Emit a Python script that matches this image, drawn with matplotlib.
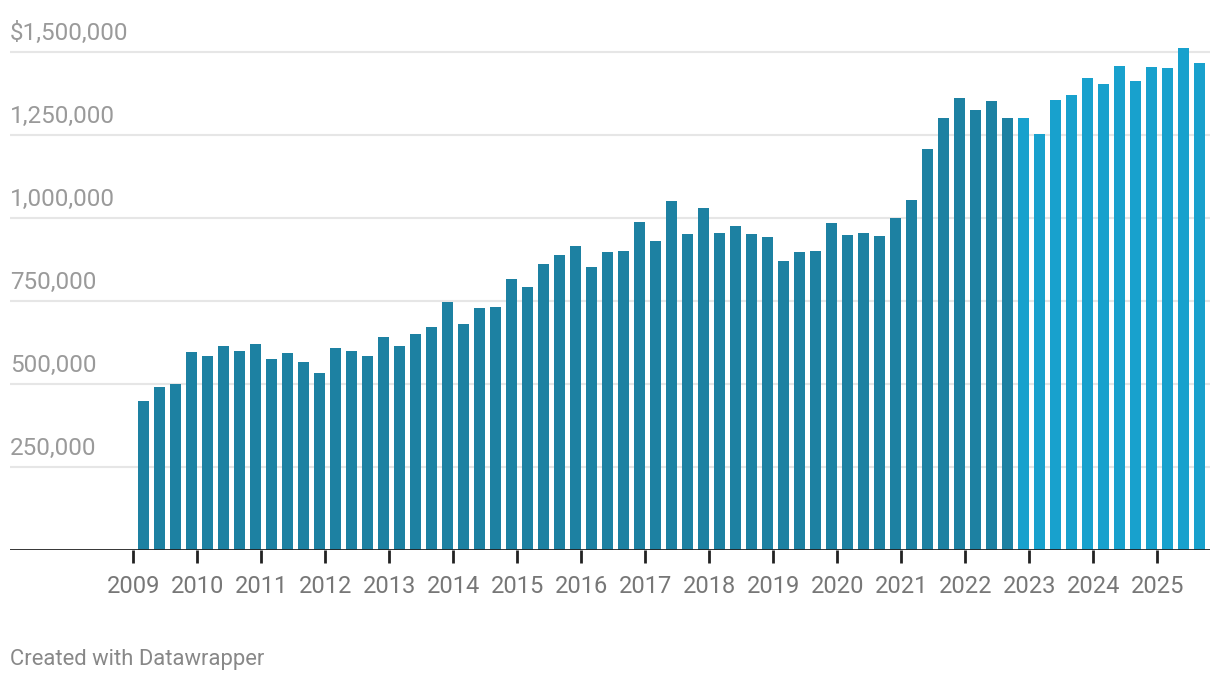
import numpy as np
import matplotlib
matplotlib.use('Agg')
import matplotlib.pyplot as plt

plt.rcParams['font.family'] = ['Roboto', 'DejaVu Sans']

# quarterly values, 2009 Q1 .. 2025 Q3
values = [448000, 490000, 499000, 595000,
          583000, 614000, 598000, 620000,
          574000, 592000, 565000, 532000,
          607000, 598000, 583000, 641000,
          614000, 650000, 671000, 746000,
          680000, 728000, 731000, 815000,
          791000, 861000, 888000, 915000,
          851000, 897000, 900000, 987000,
          930000, 1050000, 951000, 1029000,
          954000, 975000, 951000, 942000,
          870000, 897000, 900000, 984000,
          948000, 954000, 945000, 999000,
          1053000, 1207000, 1300000, 1361000,
          1324000, 1351000, 1300000, 1300000,
          1252000, 1354000, 1370000, 1421000,
          1403000, 1457000, 1412000, 1454000,
          1451000, 1511000, 1466000]
years = list(range(2009, 2026))
n_dark = 55  # bars up to 2022 Q3 in the darker shade
yticks = [250000, 500000, 750000, 1000000, 1250000, 1500000]
ytick_labels = ['250,000', '500,000', '750,000', '1,000,000', '1,250,000', '$1,500,000']

dark = '#1d81a2'
light = '#18a1cd'

W, H = 1220, 682
fig = plt.figure(figsize=(W/100, H/100), dpi=100)
y0_px = 549.7
px_per_val = 332.0/1e6
ymax = 1.55e6
ax_h = ymax*px_per_val
ax = fig.add_axes([10/W, (H-y0_px)/H, 1200/W, ax_h/H])

x = np.arange(len(values))
cols = [dark if i < n_dark else light for i in range(len(values))]
ax.bar(x, values, width=0.69, color=cols, zorder=3)

ax.set_xlim(-8.34, 66.66)
ax.set_ylim(0, ymax)

for yt, lab in zip(yticks, ytick_labels):
    ax.axhline(yt, color='#e6e6e6', lw=1.5, zorder=1)
    ax.annotate(lab, (0, yt), xycoords=('axes fraction', 'data'),
                xytext=(0, 5), textcoords='offset points',
                ha='left', va='bottom', fontsize=17.5, color='#9a9a9a')

ax.axhline(0, color='#222222', lw=2, zorder=4)
tick_pos = [4*(y-2009) - 0.64 for y in years]
ax.set_xticks(tick_pos)
ax.set_xticklabels([str(y) for y in years], fontsize=17, color='#777777')
ax.tick_params(axis='x', length=9, width=2, color='#222222', pad=9)
ax.set_yticks([])
for s in ax.spines.values():
    s.set_visible(False)

fig.text(10/W, 1-660/H, 'Created with Datawrapper', fontsize=15.8,
         color='#888888', ha='left', va='center')

plt.savefig('out.png', dpi=100)
